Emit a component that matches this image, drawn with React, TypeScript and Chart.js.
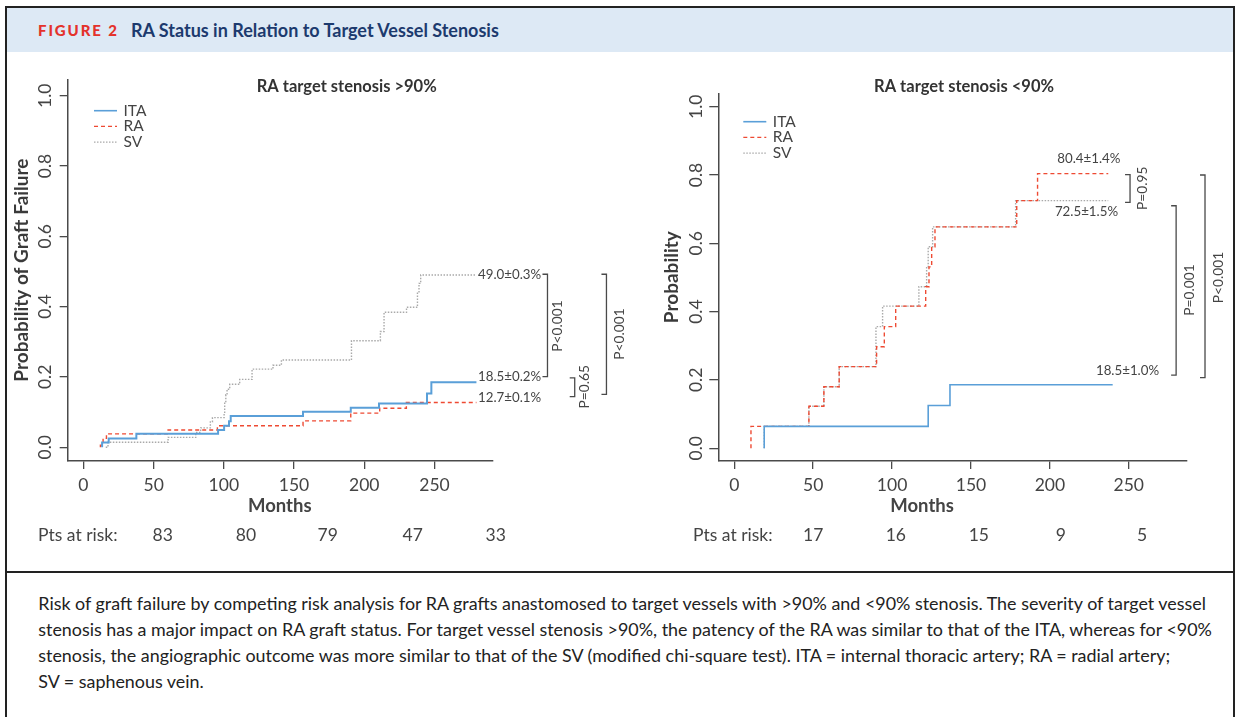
import React, { useEffect, useRef } from 'react';
import { Chart, registerables } from 'chart.js';

Chart.register(...registerables);

const FONT = 'Lato, "Open Sans", "Noto Sans", sans-serif';

// ---------- DATA: left panel (RA target stenosis >90%) ----------
const leftItaMonths = [13.3, 13.3, 18.0, 37.7, 95.9, 100.2, 103.7, 104.9, 156.4, 190.4, 210.5, 244.7, 247.8, 279.9];
const leftItaProb = [0, 0.013, 0.025, 0.038, 0.049, 0.061, 0.074, 0.089, 0.101, 0.112, 0.124, 0.153, 0.185, 0.185];
const leftRaMonths = [12.1, 12.1, 14.0, 16.4, 60.3, 95.4, 156.4, 190.4, 211.0, 230.0, 279.9];
const leftRaProb = [0, 0.006, 0.025, 0.038, 0.049, 0.061, 0.075, 0.097, 0.111, 0.127, 0.127];
const leftSvMonths = [15.9, 17.5, 60.3, 80.0, 83.5, 90.4, 91.9, 100.2, 100.6, 101.4, 102.3, 104.2, 111.3, 120.1, 135.0, 141.0, 190.9, 211.5, 214.1, 230.1, 237.9, 239.0, 240.2, 279.9];
const leftSvProb = [0, 0.014, 0.028, 0.042, 0.055, 0.072, 0.084, 0.096, 0.125, 0.149, 0.165, 0.179, 0.193, 0.222, 0.233, 0.248, 0.303, 0.329, 0.384, 0.398, 0.442, 0.466, 0.49, 0.49];
const leftRiskCounts = [83, 80, 79, 47, 33];
const leftRiskMonths = [56.5, 115.7, 174, 234.5, 293.6];
const leftFinalLabels = ['49.0±0.3%', '18.5±0.2%', '12.7±0.1%'];
const leftPValues = ['P<0.001', 'P=0.65', 'P<0.001'];

// ---------- DATA: right panel (RA target stenosis <90%) ----------
const rightItaMonths = [19.0, 19.0, 122.9, 136.7, 239.8];
const rightItaProb = [0, 0.064, 0.125, 0.186, 0.186];
const rightRaMonths = [10.6, 10.6, 47.3, 56.8, 66.5, 90.2, 95.1, 102.3, 121.3, 123.4, 125.1, 127.2, 179.0, 192.2, 237.0];
const rightRaProb = [0, 0.064, 0.123, 0.18, 0.239, 0.297, 0.356, 0.416, 0.473, 0.531, 0.59, 0.648, 0.725, 0.804, 0.804];
const rightSvMonths = [19.0, 19.0, 47.3, 56.8, 66.5, 89.8, 94.0, 117.0, 121.9, 122.9, 125.7, 178.3, 237.0];
const rightSvProb = [0, 0.064, 0.123, 0.18, 0.239, 0.356, 0.416, 0.473, 0.531, 0.59, 0.648, 0.725, 0.725];
const rightRiskCounts = [17, 16, 15, 9, 5];
const rightRiskMonths = [50, 102.4, 155, 207, 258.4];
const rightFinalLabels = ['80.4±1.4%', '72.5±1.5%', '18.5±1.0%'];
const rightPValues = ['P=0.95', 'P=0.001', 'P<0.001'];

const seriesNames = ['ITA', 'RA', 'SV'];
const xTickValues = [0, 50, 100, 150, 200, 250];
const yTickValues = [0, 0.2, 0.4, 0.6, 0.8, 1.0];

const COLORS = { ita: '#5a9fd8', ra: '#ee4a33', sv: '#a9a9a9', axis: '#4a4a4a', text: '#444' };

function pts(m: number[], p: number[]) {
  return m.map((v, i) => ({ x: v, y: p[i] }));
}

function datasets(ita: [number[], number[]], ra: [number[], number[]], sv: [number[], number[]], itaWidth: number) {
  return [
    { label: seriesNames[0], data: pts(ita[0], ita[1]), borderColor: COLORS.ita, borderWidth: itaWidth, borderDash: [], stepped: 'before' as const, pointRadius: 0, fill: false },
    { label: seriesNames[1], data: pts(ra[0], ra[1]), borderColor: COLORS.ra, borderWidth: 1.4, borderDash: [4, 3], stepped: 'before' as const, pointRadius: 0, fill: false },
    { label: seriesNames[2], data: pts(sv[0], sv[1]), borderColor: COLORS.sv, borderWidth: 1.4, borderDash: [1.5, 1.5], stepped: 'before' as const, pointRadius: 0, fill: false },
  ];
}

type Bracket = { x: number; y1: number; y2: number; text: string; tx: number; ty: number };
type FinalLabel = { text: string; x: number; y: number; align: CanvasTextAlign };

type PanelCfg = {
  id: string;
  width: number;
  height: number;
  xMin: number; xMax: number; yMin: number; yMax: number;
  padTop: number; padRight: number; padBottom: number;
  yAxisWidth: number; xAxisHeight: number;
  yTitle: string; yTitlePad: number; yTickPad: number; yTickLen: number;
  title: string; titleAt: number; titleY: number;
  monthsAt: number; monthsY: number;
  riskLabelX: number; riskY: number; riskMonths: number[]; riskCounts: number[];
  legendDx: number; legendDy: number;
  finals: FinalLabel[];
  brackets: Bracket[];
  data: any[];
};

function extrasPlugin(cfg: PanelCfg) {
  return {
    id: 'extras_' + cfg.id,
    afterDraw(chart: any) {
      const ctx: CanvasRenderingContext2D = chart.ctx;
      const xs = chart.scales.x;
      const ys = chart.scales.y;
      const ca = chart.chartArea;
      ctx.save();
      ctx.textBaseline = 'middle';
      // panel title
      ctx.fillStyle = '#333';
      ctx.font = `bold 16.5px ${FONT}`;
      ctx.textAlign = 'center';
      ctx.fillText(cfg.title, xs.getPixelForValue(cfg.titleAt), cfg.titleY);
      // x title
      ctx.font = `bold 18.5px ${FONT}`;
      ctx.fillStyle = '#444';
      ctx.fillText('Months', xs.getPixelForValue(cfg.monthsAt), cfg.monthsY);
      // risk table
      ctx.font = `17.5px ${FONT}`;
      ctx.fillStyle = COLORS.text;
      ctx.textAlign = 'left';
      ctx.fillText('Pts at risk:', cfg.riskLabelX, cfg.riskY);
      ctx.textAlign = 'center';
      cfg.riskCounts.forEach((c, i) => ctx.fillText(String(c), xs.getPixelForValue(cfg.riskMonths[i]), cfg.riskY));
      // legend
      chart.data.datasets.forEach((ds: any, i: number) => {
        const y = ca.top + cfg.legendDy + i * 15.7;
        ctx.beginPath();
        ctx.strokeStyle = ds.borderColor;
        ctx.lineWidth = Math.min(ds.borderWidth, 1.6);
        ctx.setLineDash(ds.borderDash || []);
        ctx.moveTo(ca.left + cfg.legendDx, y);
        ctx.lineTo(ca.left + cfg.legendDx + 23, y);
        ctx.stroke();
        ctx.setLineDash([]);
        ctx.fillStyle = COLORS.text;
        ctx.font = `15.5px ${FONT}`;
        ctx.textAlign = 'left';
        ctx.fillText(ds.label, ca.left + cfg.legendDx + 29.5, y);
      });
      // final value labels
      ctx.font = `13.3px ${FONT}`;
      ctx.fillStyle = COLORS.text;
      cfg.finals.forEach((f) => {
        ctx.textAlign = f.align;
        ctx.fillText(f.text, xs.getPixelForValue(f.x), ys.getPixelForValue(f.y));
      });
      // brackets
      ctx.strokeStyle = COLORS.axis;
      ctx.lineWidth = 1.3;
      cfg.brackets.forEach((b) => {
        const x = xs.getPixelForValue(b.x);
        const y1 = ys.getPixelForValue(b.y1);
        const y2 = ys.getPixelForValue(b.y2);
        ctx.beginPath();
        ctx.moveTo(x - 5, y1);
        ctx.lineTo(x, y1);
        ctx.lineTo(x, y2);
        ctx.lineTo(x - 5, y2);
        ctx.stroke();
        ctx.save();
        ctx.translate(xs.getPixelForValue(b.tx), ys.getPixelForValue(b.ty));
        ctx.rotate(-Math.PI / 2);
        ctx.textAlign = 'center';
        ctx.font = `13.8px ${FONT}`;
        ctx.fillText(b.text, 0, 0);
        ctx.restore();
      });
      ctx.restore();
    },
  };
}

function buildChart(canvas: HTMLCanvasElement, cfg: PanelCfg) {
  const tickFont = { family: FONT, size: 17.5 };
  return new Chart(canvas, {
    type: 'line',
    data: { datasets: cfg.data },
    plugins: [extrasPlugin(cfg)],
    options: {
      responsive: false,
      animation: false,
      devicePixelRatio: 1,
      layout: { padding: { left: 0, top: cfg.padTop, right: cfg.padRight, bottom: cfg.padBottom } },
      plugins: { legend: { display: false }, tooltip: { enabled: false }, title: { display: false } },
      scales: {
        x: {
          type: 'linear',
          min: cfg.xMin,
          max: cfg.xMax,
          afterFit: (s: any) => { s.height = cfg.xAxisHeight; },
          afterBuildTicks: (s: any) => { s.ticks = xTickValues.map((v) => ({ value: v })); },
          ticks: { autoSkip: false, maxRotation: 0, minRotation: 0, padding: 6, font: tickFont, color: COLORS.text, callback: (v: any) => String(v) },
          grid: { display: true, drawOnChartArea: false, drawTicks: true, tickLength: 8.7, color: COLORS.axis, lineWidth: 1.3 },
          border: { display: true, color: COLORS.axis, width: 1.5 },
        },
        y: {
          type: 'linear',
          min: cfg.yMin,
          max: cfg.yMax,
          afterFit: (s: any) => { s.width = cfg.yAxisWidth; },
          afterBuildTicks: (s: any) => { s.ticks = yTickValues.map((v) => ({ value: v })); },
          ticks: {
            autoSkip: false, minRotation: 90, maxRotation: 90,
            crossAlign: 'center', padding: cfg.yTickPad, font: tickFont, color: COLORS.text,
            callback: (v: any) => Number(v).toFixed(1),
          },
          grid: { display: true, drawOnChartArea: false, drawTicks: true, tickLength: cfg.yTickLen, color: COLORS.axis, lineWidth: 1.3 },
          border: { display: true, color: COLORS.axis, width: 1.5 },
          title: { display: true, text: cfg.yTitle, color: '#3a3a3a', font: { family: FONT, size: 19, weight: 'bold' }, padding: { top: cfg.yTitlePad, bottom: 0 } },
        },
      },
    } as any,
  });
}

const LEFT_CFG: PanelCfg = {
  id: 'left', width: 640, height: 500,
  xMin: -11.2, xMax: 291.2, yMin: -0.0373, yMax: 1.045,
  padTop: 19.9, padRight: 155.7, padBottom: 59.7,
  yAxisWidth: 59.7, xAxisHeight: 40,
  yTitle: 'Probability of Graft Failure', yTitlePad: 2.6, yTickPad: 2.4, yTickLen: 8,
  title: 'RA target stenosis >90%', titleAt: 187.5, titleY: 27,
  monthsAt: 139.8, monthsY: 446,
  riskLabelX: 30, riskY: 475, riskMonths: leftRiskMonths, riskCounts: leftRiskCounts,
  legendDx: 26.3, legendDy: 30.8,
  finals: [
    { text: leftFinalLabels[0], x: 281, y: 0.49, align: 'left' },
    { text: leftFinalLabels[1], x: 281, y: 0.2, align: 'left' },
    { text: leftFinalLabels[2], x: 281, y: 0.141, align: 'left' },
  ],
  brackets: [
    { x: 330.5, y1: 0.492, y2: 0.2006, text: leftPValues[0], tx: 338, ty: 0.345 },
    { x: 349.9, y1: 0.197, y2: 0.1437, text: leftPValues[1], tx: 356.8, ty: 0.172 },
    { x: 372.5, y1: 0.492, y2: 0.150, text: leftPValues[2], tx: 381.5, ty: 0.322 },
  ],
  data: datasets([leftItaMonths, leftItaProb], [leftRaMonths, leftRaProb], [leftSvMonths, leftSvProb], 2),
};

const RIGHT_CFG: PanelCfg = {
  id: 'right', width: 585, height: 500,
  xMin: -10.1, xMax: 286.7, yMin: -0.0354, yMax: 1.0372,
  padTop: 34, padRight: 46.3, padBottom: 59.7,
  yAxisWidth: 70.3, xAxisHeight: 40,
  yTitle: 'Probability', yTitlePad: 12.6, yTickPad: 0.6, yTickLen: 9,
  title: 'RA target stenosis <90%', titleAt: 145.6, titleY: 27,
  monthsAt: 119, monthsY: 446,
  riskLabelX: 45, riskY: 475, riskMonths: rightRiskMonths, riskCounts: rightRiskCounts,
  legendDx: 25, legendDy: 27.7,
  finals: [
    { text: rightFinalLabels[0], x: 224.7, y: 0.847, align: 'center' },
    { text: rightFinalLabels[1], x: 223.2, y: 0.6925, align: 'center' },
    { text: rightFinalLabels[2], x: 249.2, y: 0.226, align: 'center' },
  ],
  brackets: [
    { x: 250.8, y1: 0.801, y2: 0.72, text: rightPValues[0], tx: 258.6, ty: 0.761 },
    { x: 280, y1: 0.71, y2: 0.2143, text: rightPValues[1], tx: 288.8, ty: 0.463 },
    { x: 298.3, y1: 0.8, y2: 0.2064, text: rightPValues[2], tx: 307.2, ty: 0.5 },
  ],
  data: datasets([rightItaMonths, rightItaProb], [rightRaMonths, rightRaProb], [rightSvMonths, rightSvProb], 1.6),
};

export default function App() {
  const leftRef = useRef<HTMLCanvasElement>(null);
  const rightRef = useRef<HTMLCanvasElement>(null);

  useEffect(() => {
    const c1 = buildChart(leftRef.current!, LEFT_CFG);
    const c2 = buildChart(rightRef.current!, RIGHT_CFG);
    return () => {
      c1.destroy();
      c2.destroy();
    };
  }, []);

  const captionLines = [
    'Risk of graft failure by competing risk analysis for RA grafts anastomosed to target vessels with >90% and <90% stenosis. The severity of target vessel',
    'stenosis has a major impact on RA graft status. For target vessel stenosis >90%, the patency of the RA was similar to that of the ITA, whereas for <90%',
    'stenosis, the angiographic outcome was more similar to that of the SV (modified chi-square test). ITA = internal thoracic artery; RA = radial artery;',
    'SV = saphenous vein.',
  ];

  return (
    <div style={{ position: 'fixed', left: 0, top: 0, width: 1238, height: 717, background: '#fff', overflow: 'hidden', fontFamily: FONT }}>
      <div style={{ position: 'absolute', left: 5, top: 6, width: 1226, height: 760, border: '2px solid #222', boxSizing: 'content-box' }} />
      <div style={{ position: 'absolute', left: 7, top: 8, width: 1226, height: 44, background: '#dde9f5' }} />
      <div style={{ position: 'absolute', left: 38, top: 8, height: 44, display: 'flex', alignItems: 'center', whiteSpace: 'nowrap' }}>
        <span style={{ color: '#e4322b', fontWeight: 900, fontSize: 15, letterSpacing: 1.9 }}>FIGURE 2</span>
        <span style={{ color: '#1c3a6e', fontWeight: 700, fontSize: 18, marginLeft: 12 }}>RA Status in Relation to Target Vessel Stenosis</span>
      </div>
      <canvas ref={leftRef} width={LEFT_CFG.width} height={LEFT_CFG.height} style={{ position: 'absolute', left: 8, top: 60, width: LEFT_CFG.width, height: LEFT_CFG.height }} />
      <canvas ref={rightRef} width={RIGHT_CFG.width} height={RIGHT_CFG.height} style={{ position: 'absolute', left: 648, top: 60, width: RIGHT_CFG.width, height: RIGHT_CFG.height }} />
      <div style={{ position: 'absolute', left: 7, top: 570.7, width: 1226, height: 2, background: '#222' }} />
      <div style={{ position: 'absolute', left: 38.3, top: 589.5, color: '#222', fontSize: 17.9, lineHeight: '26.3px', whiteSpace: 'nowrap' }}>
        {captionLines.map((l, i) => (
          <div key={i}>{l}</div>
        ))}
      </div>
    </div>
  );
}
